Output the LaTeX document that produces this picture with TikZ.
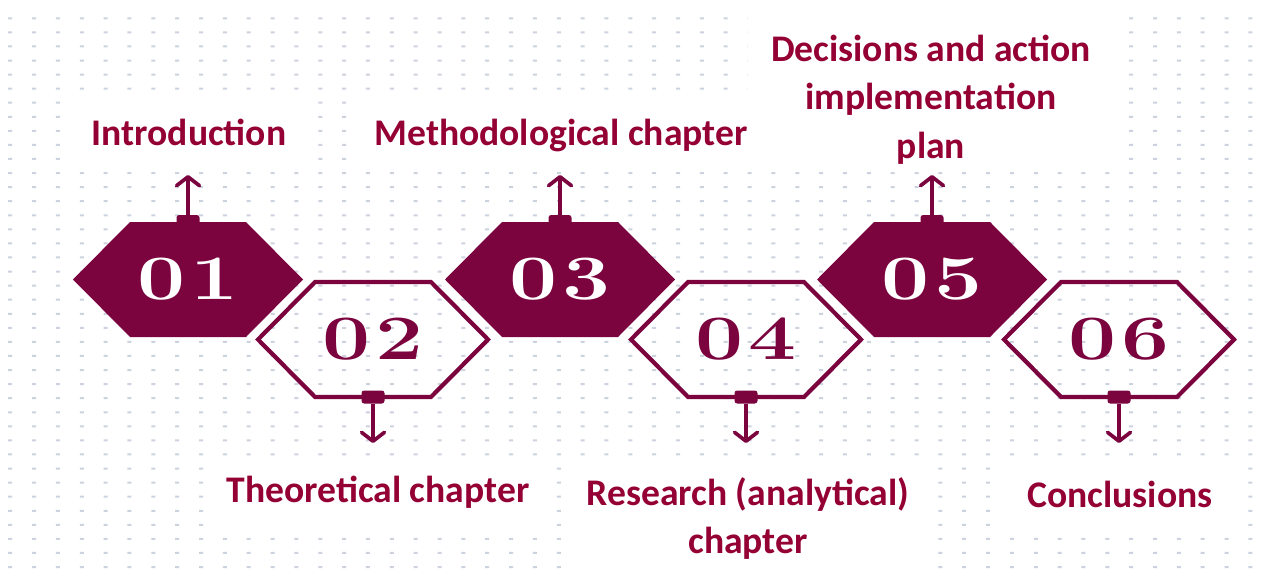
\documentclass[tikz,border=0pt]{standalone}
\usepackage{fontspec}
\newfontfamily\labelfont{Carlito}
\usetikzlibrary{arrows.meta}
\definecolor{wine}{RGB}{123,3,62}
\definecolor{winetext}{RGB}{148,0,52}
\definecolor{dotgray}{RGB}{204,210,222}
\def\hexagon[#1](#2,#3){\path[#1] (#2-115,#3) -- (#2-58,#3-57.5) -- (#2+58,#3-57.5) -- (#2+115,#3) -- (#2+58,#3+57.5) -- (#2-58,#3+57.5) -- cycle;}
\def\tab(#1,#2){\fill[wine, rounded corners=1.5pt] (#1-11.5,#2-6.5) rectangle (#1+11.5,#2+6.5);}
\def\digits#1{\scalebox{1.35}[1]{0\kern2pt#1}}

\begin{document}
\begin{tikzpicture}[x=0.02cm, y=-0.02cm,
	label/.style={font=\labelfont\bfseries\fontsize{21.4}{27.5}\selectfont, text=winetext, align=center, inner sep=0pt},
	number/.style={font=\bfseries\fontsize{36}{36}\selectfont, inner sep=0pt},
	stem/.style={wine, line width=2.1pt, -{Straight Barb[length=5pt,width=13pt,round]}}]
			%%%%% START %%%%%
			
			\useasboundingbox (0,0) rectangle (1266,574);
			\fill[white] (0,0) rectangle (1266,574);
			
			% dotted background
			\fill[dotgray] \foreach \i in {0,...,52} {\foreach \j in {0,...,39} {(10.2+\i*23.85-2, 18.3+\j*14.07-1) rectangle ++(4,2)}};
			
			% white patches behind the texts
			\fill[white] (65,100) rectangle (312,167);
			\fill[white] (359,97) rectangle (748,167);
			\fill[white] (748,0) rectangle (1120,167);
			\fill[white] (208,458) rectangle (553,532);
			\fill[white] (562,458) rectangle (930,574);
			\fill[white] (997,458) rectangle (1240,528);
			
			% hexagons
			\hexagon[fill=wine](188,279.5)
			\hexagon[draw=wine, line width=2.4pt](373,339.5)
			\hexagon[fill=wine](560,279.5)
			\hexagon[draw=wine, line width=2.4pt](746,339.5)
			\hexagon[fill=wine](932,279.5)
			\hexagon[draw=wine, line width=2.4pt](1119,339.5)
			
			\node[number, text=white] (n1) at (188,279.5) {\digits{1}};
			\node[number, text=wine] (n2) at (373,339.5) {\digits{2}};
			\node[number, text=white] (n3) at (560,279.5) {\digits{3}};
			\node[number, text=wine] (n4) at (746,339.5) {\digits{4}};
			\node[number, text=white] (n5) at (932,279.5) {\digits{5}};
			\node[number, text=wine] (n6) at (1119,339.5) {\digits{6}};
			
			% tabs and arrows
			\tab(188,221.5)
			\tab(373,397)
			\tab(560,221.5)
			\tab(746,397)
			\tab(932,221.5)
			\tab(1119,397)
			
			\coordinate (t1) at (188,215);
			\coordinate (t2) at (373,403.5);
			\coordinate (t3) at (560,215);
			\coordinate (t4) at (746,403.5);
			\coordinate (t5) at (932,215);
			\coordinate (t6) at (1119,403.5);
			
			\coordinate (e1) at (188,175);
			\coordinate (e2) at (373,443);
			\coordinate (e3) at (560,175);
			\coordinate (e4) at (746,443);
			\coordinate (e5) at (932,175);
			\coordinate (e6) at (1119,443);
			
			\draw[stem] (t1) -- (e1);
			\draw[stem] (t2) -- (e2);
			\draw[stem] (t3) -- (e3);
			\draw[stem] (t4) -- (e4);
			\draw[stem] (t5) -- (e5);
			\draw[stem] (t6) -- (e6);
			
			% labels
			\node[label, anchor=base] (l1) at (189,146) {Introduction};
			\node[label, anchor=base] (l2) at (378,502) {Theoretical chapter};
			\node[label, anchor=base] (l3) at (561,146) {Methodological chapter};
			\node[label] (l4) at (748,518.5) {Research (analytical)\\chapter};
			\node[label] (l5) at (931,99.5) {Decisions and action\\implementation\\plan};
			\node[label, anchor=base] (l6) at (1120,507) {Conclusions};
			
			%%%%% END %%%%%
\end{tikzpicture}
\end{document}
